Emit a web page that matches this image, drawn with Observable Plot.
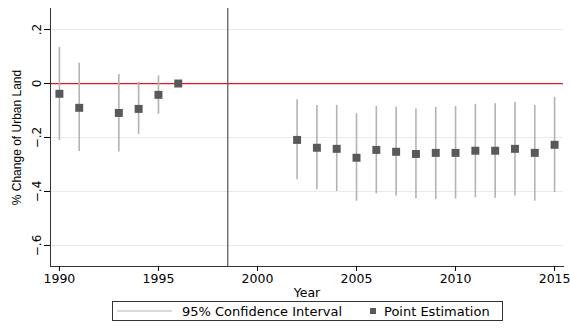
<!DOCTYPE html>
<html><head><meta charset="utf-8">
<script src="https://cdn.jsdelivr.net/npm/d3@7"></script>
<script src="https://cdn.jsdelivr.net/npm/@observablehq/plot@0.6"></script>
<style>
body{margin:0;background:#fff;}
#chart svg{display:block;}
</style>
</head><body><div id="chart"></div><div id="legend"></div><script>
const years     = [1990, 1991, 1993, 1994, 1995, 1996, 2002, 2003, 2004, 2005, 2006, 2007, 2008, 2009, 2010, 2011, 2012, 2013, 2014, 2015];
const estimates = [-0.038, -0.090, -0.109, -0.094, -0.042, 0.000, -0.209, -0.238, -0.242, -0.275, -0.246, -0.253, -0.261, -0.257, -0.257, -0.249, -0.249, -0.242, -0.257, -0.227];
const ciLow     = [-0.211, -0.252, -0.254, -0.189, -0.114, null, -0.357, -0.394, -0.400, -0.436, -0.409, -0.417, -0.427, -0.430, -0.428, -0.423, -0.425, -0.417, -0.436, -0.404];
const ciHigh    = [0.134, 0.075, 0.033, 0.005, 0.028, null, -0.060, -0.081, -0.081, -0.112, -0.085, -0.088, -0.094, -0.088, -0.085, -0.077, -0.075, -0.069, -0.081, -0.051];
const yTicks = [0.2, 0, -0.2, -0.4, -0.6];
const xTicks = [1990, 1995, 2000, 2005, 2010, 2015];
const gridValues = [0.2, -0.2, -0.4, -0.6];
const breakYear = 1998.5;
const legendLabels = ["95% Confidence Interval", "Point Estimation"];

const data = years.map((y, i) => ({year: y, est: estimates[i], lo: ciLow[i], hi: ciHigh[i]}));
const ciData = data.filter(d => d.lo != null);
const fmtY = d => d === 0 ? "0" : d3.format(".1f")(d).replace("0.", ".");

const plot = Plot.plot({
  width: 570,
  height: 298,
  marginLeft: 50,
  marginRight: 7,
  marginTop: 8,
  marginBottom: 32,
  style: {fontFamily: "'Liberation Sans', Arial, sans-serif", fontSize: "11px", color: "#000", background: "#fff"},
  x: {domain: [1989.55, 2015.45]},
  y: {domain: [-0.678, 0.278]},
  marks: [
    Plot.gridY(gridValues, {stroke: "#e3edf1", strokeOpacity: 1, strokeWidth: 1}),
    Plot.ruleY([0], {stroke: "#e8141c", strokeWidth: 1.2}),
    Plot.ruleX([breakYear], {stroke: "#555", strokeWidth: 1.2}),
    Plot.ruleX(ciData, {x: "year", y1: "lo", y2: "hi", stroke: "#b3b3b3", strokeWidth: 1.6}),
    Plot.dot(data, {x: "year", y: "est", symbol: "square", r: 4.5, fill: "#595959", stroke: "none"}),
    Plot.frame({anchor: "left", stroke: "#333"}),
    Plot.frame({anchor: "bottom", stroke: "#333"}),
    Plot.axisY({ticks: yTicks, tickFormat: fmtY, tickSize: 6, tickPadding: 4, tickRotate: -90,
      fontFamily: "'DejaVu Sans', sans-serif", fontSize: 12,
      label: "% Change of Urban Land", labelArrow: false, labelAnchor: "center", labelOffset: 38}),
    Plot.axisX({ticks: xTicks, tickFormat: d => String(d), tickSize: 5, tickPadding: 3,
      fontFamily: "'DejaVu Sans', sans-serif", fontSize: 12.5,
      label: "Year", labelArrow: false, labelAnchor: "center", labelOffset: 30})
  ]
});
document.getElementById("chart").appendChild(plot);
d3.select(plot).selectAll("[aria-label='y-axis label'] text").style("font-family", "'Liberation Sans', Arial, sans-serif").style("font-size", "12px");

// legend
const lg = d3.select("#legend").append("svg").attr("width", 570).attr("height", 33)
  .style("display", "block")
  .style("font-family", "'DejaVu Sans', sans-serif").style("font-size", "13px");
lg.append("rect").attr("x", 112.5).attr("y", 3.5).attr("width", 390).attr("height", 19)
  .attr("fill", "#fff").attr("stroke", "#333");
lg.append("line").attr("x1", 117).attr("x2", 172).attr("y1", 13).attr("y2", 13).attr("stroke", "#b3b3b3").attr("stroke-width", 1);
lg.append("text").attr("x", 182).attr("y", 17.8).attr("fill", "#000").text(legendLabels[0]);
lg.append("rect").attr("x", 370).attr("y", 10).attr("width", 6).attr("height", 6).attr("fill", "#595959");
lg.append("text").attr("x", 384).attr("y", 17.8).attr("fill", "#000").text(legendLabels[1]);
</script></body></html>
